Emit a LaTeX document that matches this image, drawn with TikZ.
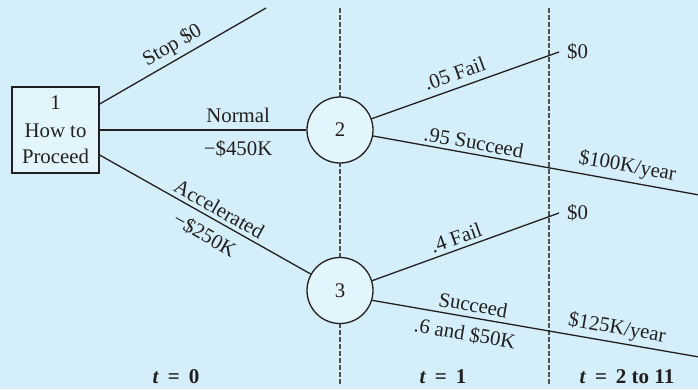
\documentclass[tikz,border=0pt]{standalone}
\usepackage{fontspec}
\setmainfont{Liberation Serif}
\definecolor{bg}{HTML}{D4EEFA}
\definecolor{nodefill}{HTML}{E2F4FC}
\definecolor{ink}{HTML}{231F20}
\definecolor{dashgray}{HTML}{505050}
\begin{document}
\begin{tikzpicture}[x=1pt,y=-1pt,
  every node/.style={font=\fontsize{20.8}{26}\selectfont, text=ink},
  branch/.style={draw=ink, line width=1.3pt},
  timeline/.style={draw=dashgray, line width=1.5pt, dash pattern=on 4.5pt off 2.5pt},
  decision/.style={draw=ink, fill=nodefill, line width=1.3pt, minimum width=87pt, minimum height=86pt, align=center, inner sep=0pt},
  chance/.style={draw=ink, fill=nodefill, line width=1.3pt, circle, minimum size=66pt, inner sep=0pt},
  lbl/.style={sloped, inner sep=0pt, text height=14pt, text depth=5pt},
  payoff/.style={anchor=west, inner sep=0pt, text height=14pt, text depth=5pt, xshift=8pt, yshift=-2pt},
  tlbl/.style={font=\fontsize{21}{26}\selectfont\bfseries, inner sep=0pt}
]
\fill[bg] (0,0) rectangle (698,389);
\useasboundingbox (0,0) rectangle (698,389);

% time dividers
\coordinate (d1t) at (340,8);
\coordinate (d1b) at (340,384);
\coordinate (d2t) at (549,8);
\coordinate (d2b) at (549,384);
\draw[timeline] (d1t) -- (d1b);
\draw[timeline] (d2t) -- (d2b);

% nodes
\node[decision] (n1) at (55.5,130) {1\\[2pt]How to\\Proceed};
\node[chance] (n2) at (340,130) {2};
\node[chance] (n3) at (340,290.5) {3};

% free ends
\coordinate (stopend) at (266,8);
\coordinate (f2end) at (559,52);
\coordinate (s2end) at (702,195.5);
\coordinate (f3end) at (559,213);
\coordinate (s3end) at (702,357.5);

% decision branches
\draw[branch] ([yshift=26pt]n1.east) -- node[lbl, pos=0.48, above=3pt] (lstop) {Stop \$0} (stopend);
\draw[branch] (n1) -- node[lbl, pos=0.67, above=2pt] (lnorm) {Normal}
                      node[lbl, pos=0.67, below=11pt] (lnormc) {−\$450K} (n2);
\draw[branch] ([yshift=-25pt]n1.east) -- node[lbl, pos=0.54, above=-1pt] (lacc) {Accelerated}
                      node[lbl, pos=0.54, below=10pt] (laccc) {−\$250K} (n3);

% chance branches from 2
\draw[branch] (n2) -- node[lbl, pos=0.47, above=2pt] (lf2) {.05 Fail} (f2end);
\node[payoff] (p2f) at (f2end) {\$0};
\draw[branch] (n2) -- node[lbl, pos=0.30, above=-1pt] (ls2) {.95 Succeed}
                      node[lbl, pos=0.765, above=4pt] (ls2p) {\$100K/year} (s2end);

% chance branches from 3
\draw[branch] (n3.17) -- node[lbl, pos=0.47, above=-1pt] (lf3) {.4 Fail} (f3end);
\node[payoff] (p3f) at (f3end) {\$0};
\draw[branch] (n3.-17) -- node[lbl, pos=0.30, above=0pt] (ls3) {Succeed}
                      node[lbl, pos=0.29, below=9pt] (ls3c) {.6 and \$50K}
                      node[lbl, pos=0.735, above=3pt] (ls3p) {\$125K/year} (s3end);

% time labels
\node[tlbl] (t0) at (176,377) {\textit{t}\hspace{9pt}=\hspace{9pt}0};
\node[tlbl] (t1) at (443,377) {\textit{t}\hspace{9pt}=\hspace{9pt}1};
\node[tlbl] (t2) at (627,377) {\textit{t}\hspace{9pt}=\hspace{9pt}2 to 11};
\end{tikzpicture}
\end{document}
